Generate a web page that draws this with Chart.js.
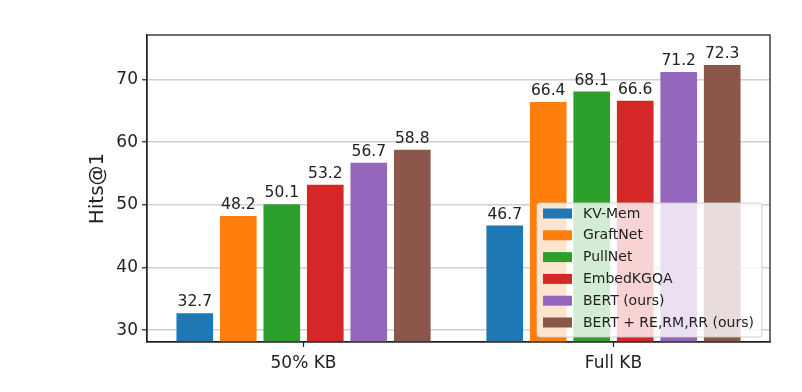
<!DOCTYPE html>
<html>
<head>
<meta charset="utf-8">
<script src="https://cdn.jsdelivr.net/npm/chart.js@4.4.0/dist/chart.umd.min.js"></script>
<style>
  html, body { margin: 0; padding: 0; background: #fff; }
  canvas { display: block; }
</style>
</head>
<body>
<canvas id="chart" width="802" height="392"></canvas>
<script>
// ================= DATA =================
const categories = ["50% KB", "Full KB"];
const methods = ["KV-Mem", "GraftNet", "PullNet", "EmbedKGQA", "BERT (ours)", "BERT + RE,RM,RR (ours)"];
const kvMem = [32.7, 46.7];
const graftNet = [48.2, 66.4];
const pullNet = [50.1, 68.1];
const embedKGQA = [53.2, 66.6];
const bertOurs = [56.7, 71.2];
const bertReRmRr = [58.8, 72.3];
const yTicks = [30, 40, 50, 60, 70];

const series = [kvMem, graftNet, pullNet, embedKGQA, bertOurs, bertReRmRr];
const colors = ["#1f77b4", "#ff7f0e", "#2ca02c", "#d62728", "#9467bd", "#8c564b"];
const FONT = "'DejaVu Sans', sans-serif";
const INK = "#222";

// frame, value labels and legend inside the plot
const extras = {
  id: "extras",
  afterDatasetsDraw(chart) {
    const ctx = chart.ctx;
    const a = chart.chartArea;

    // value labels
    ctx.save();
    ctx.font = "15.5px " + FONT;
    ctx.fillStyle = INK;
    ctx.textAlign = "center";
    ctx.textBaseline = "bottom";
    chart.data.datasets.forEach((ds, i) => {
      chart.getDatasetMeta(i).data.forEach((bar, j) => {
        ctx.fillText(series[i][j].toFixed(1), bar.x, bar.y - 3);
      });
    });
    ctx.restore();

    // legend
    const lx = 537, ly = 203, lw = 225, lh = 134;
    ctx.save();
    ctx.beginPath();
    ctx.roundRect(lx, ly, lw, lh, 3);
    ctx.fillStyle = "rgba(255,255,255,0.8)";
    ctx.fill();
    ctx.strokeStyle = "rgba(204,204,204,0.9)";
    ctx.lineWidth = 1;
    ctx.stroke();
    ctx.font = "14px " + FONT;
    ctx.textBaseline = "middle";
    ctx.textAlign = "left";
    methods.forEach((m, i) => {
      const cy = 213.5 + i * 21.8;
      ctx.fillStyle = colors[i];
      ctx.fillRect(543, cy - 5, 29, 10);
      ctx.fillStyle = INK;
      ctx.fillText(m, 583, cy + 0.5);
    });
    ctx.restore();

    // frame
    ctx.save();
    ctx.strokeStyle = INK;
    ctx.lineWidth = 1.3;
    ctx.strokeRect(a.left, a.top, a.right - a.left, a.bottom - a.top);
    ctx.restore();
  }
};

new Chart(document.getElementById("chart"), {
  type: "bar",
  data: {
    datasets: methods.map((m, i) => ({
      label: m,
      data: series[i].map((v, j) => ({ x: j, y: v })),
      backgroundColor: colors[i],
      categoryPercentage: 0.842,
      barPercentage: 0.843
    }))
  },
  options: {
    responsive: false,
    animation: false,
    layout: { padding: { left: 82, top: 35, right: 32, bottom: 0 } },
    plugins: {
      legend: { display: false },
      tooltip: { enabled: false }
    },
    scales: {
      x: {
        type: "linear",
        min: -0.505,
        max: 1.505,
        offset: false,
        afterBuildTicks: s => { s.ticks = categories.map((c, i) => ({ value: i })); },
        afterFit: s => { s.height = 50; },
        ticks: {
          autoSkip: false,
          maxRotation: 0,
          padding: 6,
          color: INK,
          font: { family: FONT, size: 17 },
          callback: v => categories[v]
        },
        grid: { offset: false, drawOnChartArea: false, tickLength: 5, tickColor: INK, tickWidth: 1.2 },
        border: { color: INK, width: 1.3 }
      },
      y: {
        min: 28.1,
        max: 77.1,
        afterBuildTicks: s => { s.ticks = yTicks.map(v => ({ value: v })); },
        afterFit: s => { s.width = 65; },
        title: {
          display: true,
          text: "Hits@1",
          color: INK,
          font: { family: FONT, size: 20 }
        },
        ticks: {
          padding: 4,
          color: INK,
          font: { family: FONT, size: 17 }
        },
        grid: { color: "#d0d0d0", lineWidth: 1.5, tickLength: 5, tickColor: INK, tickWidth: 1.2 },
        border: { color: INK, width: 1.3 }
      }
    }
  },
  plugins: [extras]
});
</script>
</body>
</html>
